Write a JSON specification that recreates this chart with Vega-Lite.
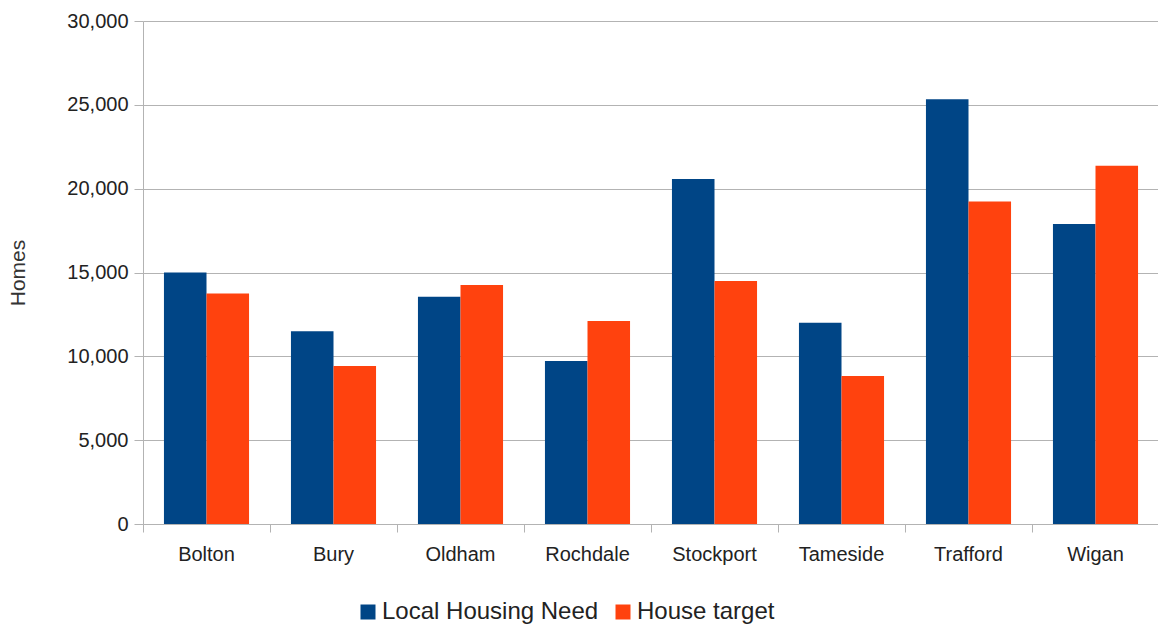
{
  "$schema": "https://vega.github.io/schema/vega-lite/v6.json",
  "width": 1016,
  "height": 503,
  "autosize": {"type": "none"},
  "padding": {"left": 143, "top": 21, "right": 0, "bottom": 100},
  "background": "white",
  "config": {"view": {"stroke": null}, "font": "Liberation Sans"},
  "resolve": {"axis": {"x": "independent"}},
  "data": {
    "values": [
      {"area": "Bolton", "series": "Local Housing Need", "homes": 15000},
      {"area": "Bolton", "series": "House target", "homes": 13750},
      {"area": "Bury", "series": "Local Housing Need", "homes": 11500},
      {"area": "Bury", "series": "House target", "homes": 9420},
      {"area": "Oldham", "series": "Local Housing Need", "homes": 13550},
      {"area": "Oldham", "series": "House target", "homes": 14250},
      {"area": "Rochdale", "series": "Local Housing Need", "homes": 9720},
      {"area": "Rochdale", "series": "House target", "homes": 12100},
      {"area": "Stockport", "series": "Local Housing Need", "homes": 20580},
      {"area": "Stockport", "series": "House target", "homes": 14500},
      {"area": "Tameside", "series": "Local Housing Need", "homes": 12000},
      {"area": "Tameside", "series": "House target", "homes": 8820},
      {"area": "Trafford", "series": "Local Housing Need", "homes": 25330},
      {"area": "Trafford", "series": "House target", "homes": 19230},
      {"area": "Wigan", "series": "Local Housing Need", "homes": 17900},
      {"area": "Wigan", "series": "House target", "homes": 21360}
    ]
  },
  "layer": [
    {
      "mark": {"type": "bar"},
      "encoding": {
        "x": {
          "field": "area",
          "type": "nominal",
          "sort": null,
          "scale": {"paddingInner": 0.33, "paddingOuter": 0.165},
          "axis": {
            "orient": "bottom",
            "title": null,
            "tickColor": "#b3b3b3",
            "tickSize": 8,
            "domainColor": "#b3b3b3",
            "bandPosition": -0.246,
            "labels": false,
            "grid": false
          }
        },
        "xOffset": {"field": "series", "sort": ["Local Housing Need", "House target"]},
        "y": {
          "field": "homes",
          "type": "quantitative",
          "scale": {"domain": [0, 30000], "nice": false},
          "axis": {
            "title": "Homes",
            "titleFontSize": 21,
            "titleFontWeight": "normal",
            "titleColor": "#333333",
            "titlePadding": 38,
            "values": [0, 5000, 10000, 15000, 20000, 25000, 30000],
            "format": ",d",
            "labelFontSize": 20,
            "labelColor": "#222222",
            "labelPadding": 6,
            "tickColor": "#b3b3b3",
            "tickSize": 9,
            "domainColor": "#b3b3b3",
            "gridColor": "#b3b3b3",
            "grid": true
          }
        },
        "color": {
          "field": "series",
          "type": "nominal",
          "sort": ["Local Housing Need", "House target"],
          "scale": {"domain": ["Local Housing Need", "House target"], "range": ["#004586", "#ff420e"]},
          "legend": {
            "title": null,
            "orient": "none",
            "direction": "horizontal",
            "legendX": 213,
            "legendY": 579,
            "labelFontSize": 24,
            "labelColor": "#222222",
            "labelLimit": 400,
            "symbolType": "square",
            "symbolSize": 225,
            "symbolStrokeWidth": 0,
            "labelOffset": 2,
            "columnPadding": 12
          }
        }
      }
    },
    {
      "mark": {"type": "bar", "opacity": 0},
      "encoding": {
        "x": {
          "field": "area",
          "type": "nominal",
          "sort": null,
          "axis": {
            "orient": "bottom",
            "title": null,
            "labelAngle": 0,
            "labelFontSize": 20,
            "labelColor": "#222222",
            "labelPadding": 20,
            "ticks": false,
            "domain": false,
            "grid": false
          }
        },
        "y": {"field": "homes", "type": "quantitative"}
      }
    }
  ]
}
